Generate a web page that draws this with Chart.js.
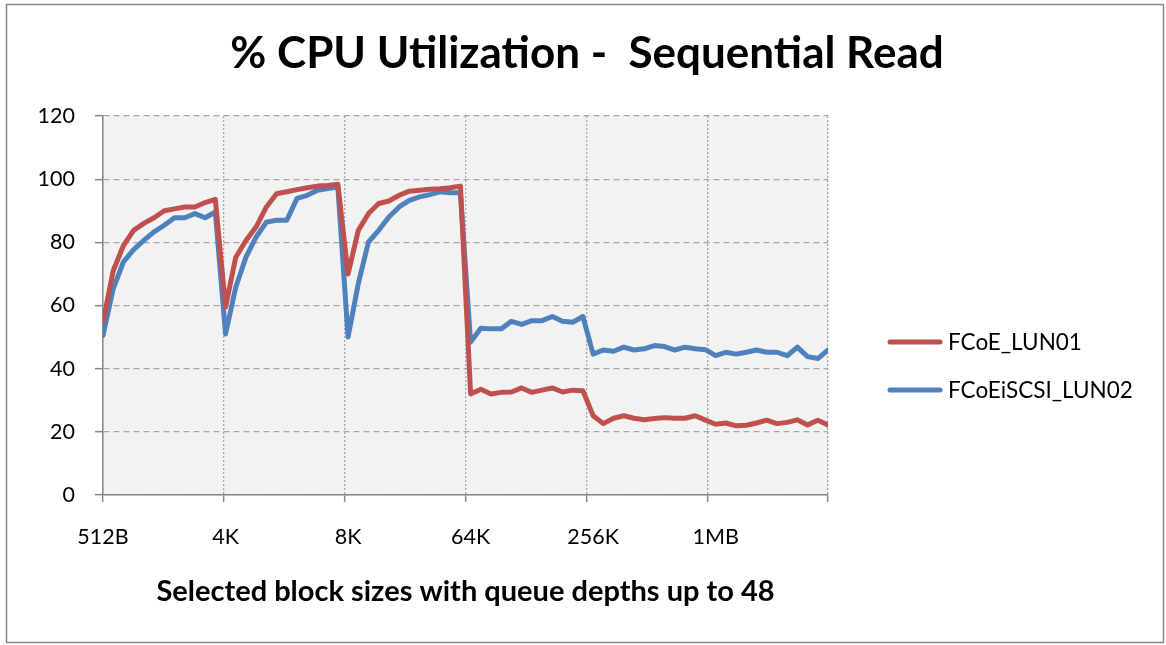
<!DOCTYPE html>
<html>
<head>
<meta charset="utf-8">
<title>% CPU Utilization - Sequential Read</title>
<script src="https://cdn.jsdelivr.net/npm/chart.js@4.4.1/dist/chart.umd.min.js"></script>
<style>
    html, body {margin: 0; padding: 0; background: #fff;}
    #wrap {width: 1166px; height: 645px;}
</style>
</head>
<body>
<div id="wrap"><canvas id="chart" width="1166" height="645"></canvas></div>
<script>
// block sizes on the x axis, each one run with 12 queue depths
const blockSizes = ['512B', '4K', '8K', '64K', '256K', '1MB']
const depthsPerBlock = 12
const yTicks = [0, 20, 40, 60, 80, 100, 120]

const seriesNames = ['FCoE_LUN01', 'FCoEiSCSI_LUN02']
const seriesColors = ['#C0504D', '#4F81BD']

const fcoeLun01 = [
    54.7, 71.0, 79.0, 83.8, 86.0, 87.8, 90.0, 90.6, 91.2, 91.2, 92.6, 93.6,
    59.5, 75.3, 80.6, 84.9, 91.2, 95.4, 96.0, 96.7, 97.3, 97.8, 98.0, 98.4,
    70.0, 83.8, 89.1, 92.3, 93.1, 94.9, 96.2, 96.5, 96.8, 97.0, 97.3, 97.8,
    32.0, 33.5, 32.0, 32.5, 32.6, 33.9, 32.5, 33.2, 33.9, 32.6, 33.2, 33.0,
    25.1, 22.6, 24.3, 25.1, 24.3, 23.8, 24.2, 24.5, 24.3, 24.3, 25.1, 23.7,
    22.4, 22.8, 21.9, 22.1, 22.8, 23.7, 22.6, 23.0, 23.8, 22.2, 23.7, 22.2
]
const fcoeIscsiLun02 = [
    50.5, 65.3, 73.8, 77.7, 80.6, 83.3, 85.4, 87.8, 87.8, 89.1, 87.8, 89.6,
    51.0, 65.8, 75.3, 81.7, 86.4, 87.0, 87.0, 93.9, 94.9, 96.5, 97.0, 97.5,
    50.0, 66.9, 80.1, 83.8, 88.0, 91.2, 93.3, 94.4, 95.1, 96.0, 95.7, 95.7,
    48.4, 52.8, 52.6, 52.6, 55.0, 54.0, 55.2, 55.2, 56.5, 55.0, 54.7, 56.5,
    44.6, 45.9, 45.5, 46.8, 45.9, 46.3, 47.3, 47.0, 45.9, 46.8, 46.3, 46.0,
    44.1, 45.2, 44.6, 45.2, 45.9, 45.2, 45.2, 44.1, 46.8, 43.8, 43.2, 45.9
]

const lastIndex = fcoeLun01.length - 1
const gridSteps = blockSizes.length

// label ticks sit on the first point of each block, grid ticks split the axis evenly (like Excel does)
const isLabelTick = (v) => Number.isInteger(v) && v % depthsPerBlock === 0 && v / depthsPerBlock < blockSizes.length
const isGridTick = (v) => v === 0 || !isLabelTick(v)

const gray = '#868686'
const gridGray = '#a6a6a6'
const font = 'Lato, "Open Sans", sans-serif'

const backgroundPlugin = {
    id: 'background',
    beforeDraw(chart) {
        const {ctx, chartArea} = chart
        ctx.save()
        ctx.fillStyle = '#ffffff'
        ctx.fillRect(0, 0, chart.width, chart.height)
        ctx.fillStyle = '#f2f2f2'
        ctx.fillRect(chartArea.left, chartArea.top, chartArea.right - chartArea.left, chartArea.bottom - chartArea.top)
        ctx.restore()
    },
    afterDraw(chart) {
        const {ctx} = chart
        ctx.save()
        // outer frame
        ctx.strokeStyle = gray
        ctx.lineWidth = 1.5
        ctx.strokeRect(6.5, 4.5, 1157, 638)

        // title
        ctx.fillStyle = '#000'
        ctx.font = 'bold 44px ' + font
        ctx.textAlign = 'center'
        ctx.textBaseline = 'middle'
        ctx.fillText('% CPU Utilization -  Sequential Read', 587, 54)

        // legend on the right
        ctx.font = '22.5px ' + font
        ctx.textAlign = 'left'
        chart.data.datasets.forEach((ds, i) => {
            const y = 342 + i * 48
            ctx.strokeStyle = ds.borderColor
            ctx.lineWidth = 5
            ctx.lineCap = 'round'
            ctx.beginPath()
            ctx.moveTo(890, y)
            ctx.lineTo(940, y)
            ctx.stroke()
            ctx.fillStyle = '#000'
            ctx.fillText(ds.label, 948, y + 1)
        })
        ctx.restore()
    }
}

new Chart(document.getElementById('chart'), {
    type: 'line',
    data: {
        labels: fcoeLun01.map((_, i) => i),
        datasets: [fcoeLun01, fcoeIscsiLun02].map((values, i) => ({
            label: seriesNames[i],
            data: values,
            borderColor: seriesColors[i],
            backgroundColor: seriesColors[i],
            borderWidth: 5,
            borderCapStyle: 'round',
            borderJoinStyle: 'round',
            pointRadius: 0,
            tension: 0
        }))
    },
    options: {
        responsive: false,
        animation: false,
        layout: {padding: {top: 116, right: 338, bottom: 0, left: 0}},
        plugins: {
            legend: {display: false},
            title: {display: false},
            tooltip: {enabled: false}
        },
        scales: {
            x: {
                type: 'linear',
                min: 0,
                max: lastIndex,
                afterBuildTicks: (scale) => {
                    const values = []
                    for (let k = 0; k <= gridSteps; k++) values.push(k * lastIndex / gridSteps)
                    blockSizes.forEach((_, k) => values.push(k * depthsPerBlock))
                    const uniq = [...new Set(values)].sort((a, b) => a - b)
                    scale.ticks = uniq.map(v => ({value: v}))
                },
                afterFit: (scale) => { scale.height = 150 },
                ticks: {
                    autoSkip: false,
                    maxRotation: 0,
                    padding: 22,
                    color: '#000',
                    font: {family: font, size: 21.5},
                    callback: (v) => isLabelTick(v) ? blockSizes[v / depthsPerBlock] : ''
                },
                grid: {
                    color: (ctx) => ctx.tick && isGridTick(ctx.tick.value) ? gridGray : 'rgba(0,0,0,0)',
                    tickColor: (ctx) => ctx.tick && isGridTick(ctx.tick.value) ? gray : 'rgba(0,0,0,0)',
                    lineWidth: 1.3,
                    tickWidth: 1.5,
                    tickLength: 7
                },
                border: {color: gray, width: 1.5, dash: [2, 2]},
                title: {
                    display: true,
                    text: 'Selected block sizes with queue depths up to 48',
                    color: '#000',
                    font: {family: font, size: 29, weight: 'bold'},
                    padding: {top: 0, bottom: 36}
                }
            },
            y: {
                min: 0,
                max: 120,
                afterBuildTicks: (scale) => { scale.ticks = yTicks.map(v => ({value: v})) },
                afterFit: (scale) => { scale.width = 103 },
                ticks: {
                    padding: 20,
                    color: '#000',
                    font: {family: font, size: 21.5}
                },
                grid: {
                    color: gridGray,
                    lineWidth: 1.3,
                    tickColor: gray,
                    tickWidth: 1.5,
                    tickLength: 8
                },
                border: {color: gray, width: 1.5, dash: [6, 4]}
            }
        }
    },
    plugins: [backgroundPlugin]
})
</script>
</body>
</html>
